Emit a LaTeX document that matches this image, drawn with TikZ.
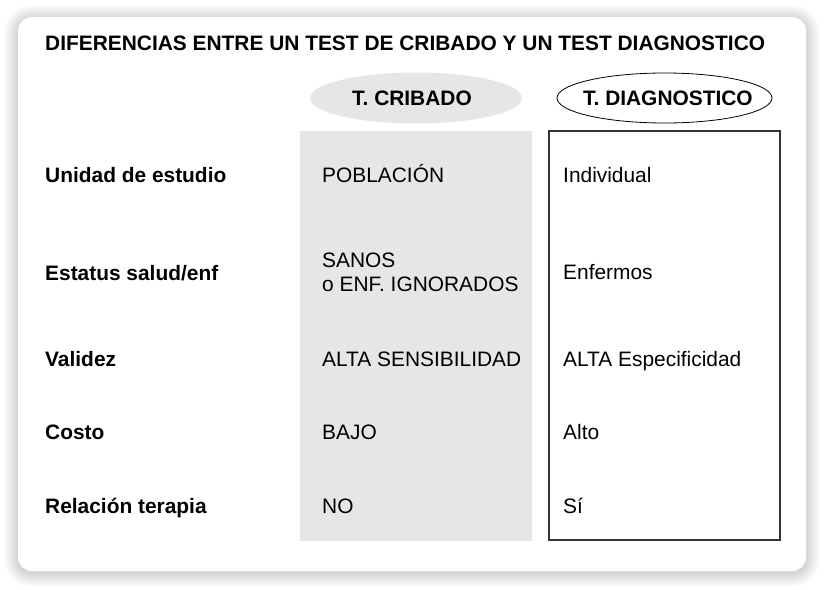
\documentclass[tikz,border=0pt]{standalone}
\usepackage{fontspec}
\setmainfont{Liberation Sans}
\usetikzlibrary{shapes.geometric}
\definecolor{boxgray}{HTML}{E6E6E6}
\definecolor{framegray}{HTML}{333333}
\tikzset{
  txt/.style={anchor=base west, inner sep=0pt, font=\fontsize{20.9}{24}\selectfont},
  lbl/.style={txt, font=\fontsize{20.9}{24}\selectfont\bfseries},
  hdr/.style={lbl},
  colbox/.style={rectangle, inner sep=0pt},
  hell/.style={ellipse, inner sep=0pt}
}
\begin{document}
\begin{tikzpicture}[x=1pt,y=-1pt]
\useasboundingbox (0,0) rectangle (824,589);
\fill[white] (0,0) rectangle (824,589);
% card shadow
\foreach \i in {1,...,14}{
  \fill[black, opacity=0.010, rounded corners={(14+\i)*1pt}] (18-\i,17-\i+2) rectangle (806+\i,571+\i+2);
}
\fill[white, rounded corners=14pt] (18,17) rectangle (806,571);
% title
\node[hdr] (title) at (45,50) {DIFERENCIAS ENTRE UN TEST DE CRIBADO Y UN TEST DIAGNOSTICO};
% column headers
\node[hell, fill=boxgray, minimum width=212pt, minimum height=51pt] (ecrib) at (416,98) {};
\node[hell, draw=black, line width=0.8pt, minimum width=215pt, minimum height=50pt] (ediag) at (664.5,98) {};
\node[hdr] (hcrib) at (352,105.5) {T. CRIBADO};
\node[hdr] (hdiag) at (583,105.5) {T. DIAGNOSTICO};
% column boxes
\node[colbox, fill=boxgray, minimum width=232pt, minimum height=410pt] (bcrib) at (416,336) {};
\node[colbox, draw=framegray, line width=1.2pt, minimum width=231pt, minimum height=409pt] (bdiag) at (664.5,335.5) {};
% row labels
\node[lbl] (r1) at (45,182) {Unidad de estudio};
\node[lbl] (r2) at (45,280) {Estatus salud/enf};
\node[lbl] (r3) at (45,366.5) {Validez};
\node[lbl] (r4) at (45,439.5) {Costo};
\node[lbl] (r5) at (45,513) {Relación terapia};
% cribado column
\node[txt] (c1) at (322,182) {POBLACIÓN};
\node[txt] (c2a) at (322,267) {SANOS};
\node[txt] (c2b) at (322,291) {o ENF. IGNORADOS};
\node[txt] (c3) at (322,366) {ALTA SENSIBILIDAD};
\node[txt] (c4) at (322,439.5) {BAJO};
\node[txt] (c5) at (322,513) {NO};
% diagnostico column
\node[txt] (d1) at (563,182) {Individual};
\node[txt] (d2) at (563,279) {Enfermos};
\node[txt] (d3) at (563,366) {ALTA Especificidad};
\node[txt] (d4) at (563,439.5) {Alto};
\node[txt] (d5) at (563,513) {Sí};
\end{tikzpicture}
\end{document}
